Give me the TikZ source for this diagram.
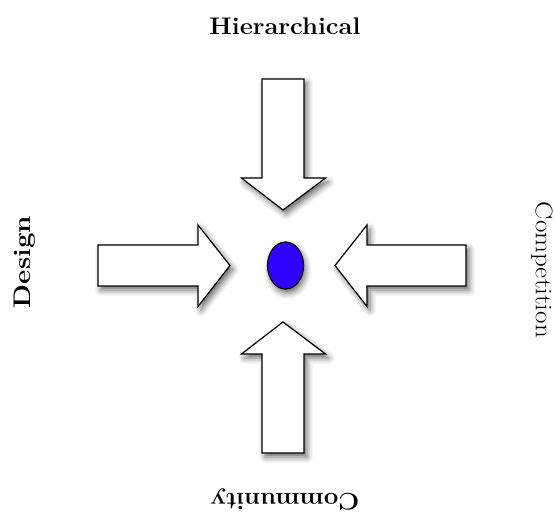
\documentclass[tikz,border=0pt]{standalone}
\usepackage{fontspec}
\setmainfont{Latin Modern Roman}
\usetikzlibrary{shadows.blur,shapes.geometric}
\definecolor{dotblue}{RGB}{48,0,255}
\begin{document}
\begin{tikzpicture}[x=1pt,y=-1pt,
  blockarrow/.style={draw=black,fill=white,line width=1.2pt,line join=miter,
    blur shadow={shadow xshift=3pt,shadow yshift=-4pt,shadow blur radius=6pt,shadow opacity=60}},
  lbl/.style={font=\bfseries\fontsize{24}{28}\selectfont,inner sep=0pt}]
\useasboundingbox (0,0) rectangle (554,514);
% top arrow
\draw[blockarrow] (262,79) -- (304,79) -- (304,178) -- (325.5,178) -- (283,210) -- (241.5,178) -- (262,178) -- cycle;
% left arrow
\draw[blockarrow] (98,245) -- (198,245) -- (198,225) -- (230,265.5) -- (198,306.5) -- (198,286) -- (98,286) -- cycle;
% right arrow
\draw[blockarrow] (466,245) -- (367,245) -- (367,225) -- (335,265.5) -- (367,306.5) -- (367,286) -- (466,286) -- cycle;
% bottom arrow
\draw[blockarrow] (262,453) -- (304,453) -- (304,354) -- (325.5,354) -- (283,322) -- (241.5,354) -- (262,354) -- cycle;
% centre dot
\node[ellipse,draw=black,fill=dotblue,line width=1.2pt,minimum width=36pt,minimum height=47pt,inner sep=0pt,
  blur shadow={shadow xshift=2pt,shadow yshift=-4pt,shadow blur radius=6pt,shadow opacity=60}] (dot) at (285.5,265.5) {};
% labels
\node[lbl] (hier) at (285,26) {\scalebox{1.06}[1]{Hierarchical}};
\node[lbl,rotate=90] (design) at (25,262) {\scalebox{1.16}[1]{Design}};
\node[lbl,rotate=-90,font=\fontsize{24}{28}\selectfont] (comp) at (542,270) {\scalebox{1.13}[1]{Competition}};
\node[lbl,rotate=180] (comm) at (285,499) {\scalebox{1.07}[1]{Community}};
\end{tikzpicture}
\end{document}
